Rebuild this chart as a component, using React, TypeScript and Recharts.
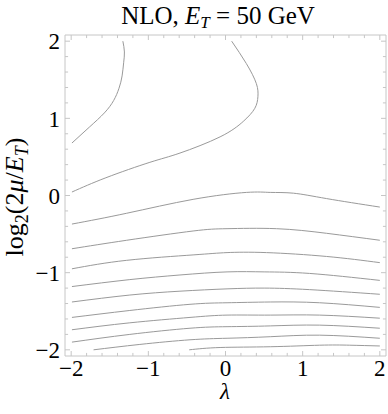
import React from 'react';
import { LineChart, Line, XAxis, YAxis, ReferenceArea, ReferenceLine } from 'recharts';

// contour lines as (lambda, log2(2mu/ET))
const contourA = [
  { x: -1.99, y: 0.68 }, { x: -1.76, y: 0.89 }, { x: -1.57, y: 1.07 }, { x: -1.45, y: 1.23 },
  { x: -1.38, y: 1.39 }, { x: -1.34, y: 1.55 }, { x: -1.32, y: 1.72 }, { x: -1.31, y: 1.86 },
  { x: -1.33, y: 2.0 },
];
const contourB = [
  { x: -1.99, y: 0.045 }, { x: -1.55, y: 0.23 }, { x: -0.98, y: 0.43 }, { x: -0.59, y: 0.55 },
  { x: -0.07, y: 0.76 }, { x: 0.23, y: 0.96 }, { x: 0.38, y: 1.13 }, { x: 0.42, y: 1.28 },
  { x: 0.4, y: 1.45 }, { x: 0.27, y: 1.71 }, { x: 0.08, y: 2.0 },
];
const contourC = [
  { x: -1.99, y: -0.37 }, { x: -1.28, y: -0.23 }, { x: -0.42, y: -0.05 }, { x: 0.27, y: 0.04 },
  { x: 0.58, y: 0.04 }, { x: 0.88, y: 0.03 }, { x: 1.31, y: -0.04 }, { x: 2.0, y: -0.15 },
];
const contourD = [
  { x: -1.99, y: -0.69 }, { x: -1.28, y: -0.58 }, { x: -0.42, y: -0.46 }, { x: 0.02, y: -0.43 },
  { x: 0.66, y: -0.43 }, { x: 1.31, y: -0.49 }, { x: 2.0, y: -0.58 },
];
const contourE = [
  { x: -1.99, y: -0.95 }, { x: -1.28, y: -0.84 }, { x: -0.42, y: -0.77 }, { x: 0.02, y: -0.74 },
  { x: 0.53, y: -0.74 }, { x: 1.31, y: -0.79 }, { x: 2.0, y: -0.87 },
];
const contourF = [
  { x: -1.99, y: -1.18 }, { x: -1.24, y: -1.09 }, { x: -0.59, y: -1.03 }, { x: 0.02, y: -0.99 },
  { x: 0.51, y: -0.99 }, { x: 1.09, y: -1.01 }, { x: 2.0, y: -1.1 },
];
const contourG = [
  { x: -1.99, y: -1.38 }, { x: -1.24, y: -1.29 }, { x: -0.59, y: -1.24 }, { x: 0.02, y: -1.21 },
  { x: 0.51, y: -1.2 }, { x: 1.09, y: -1.22 }, { x: 2.0, y: -1.28 },
];
const contourH = [
  { x: -1.99, y: -1.58 }, { x: -1.24, y: -1.49 }, { x: -0.46, y: -1.41 }, { x: 0.02, y: -1.39 },
  { x: 0.58, y: -1.38 }, { x: 1.22, y: -1.39 }, { x: 2.0, y: -1.45 },
];
const contourI = [
  { x: -1.99, y: -1.74 }, { x: -1.24, y: -1.65 }, { x: -0.46, y: -1.58 }, { x: 0.02, y: -1.55 },
  { x: 0.58, y: -1.55 }, { x: 1.22, y: -1.55 }, { x: 2.0, y: -1.59 },
];
const contourJ = [
  { x: -1.99, y: -1.9 }, { x: -1.24, y: -1.8 }, { x: -0.46, y: -1.72 }, { x: 0.02, y: -1.7 },
  { x: 0.58, y: -1.69 }, { x: 1.22, y: -1.68 }, { x: 2.0, y: -1.72 },
];
const contourK = [
  { x: -1.71, y: -2.0 }, { x: -1.11, y: -1.93 }, { x: -0.46, y: -1.87 }, { x: 0.02, y: -1.85 },
  { x: 0.58, y: -1.83 }, { x: 1.22, y: -1.81 }, { x: 2.0, y: -1.85 },
];
const contourL = [
  { x: -0.47, y: -2.0 }, { x: -0.07, y: -1.97 }, { x: 0.58, y: -1.96 }, { x: 1.22, y: -1.94 },
  { x: 1.61, y: -1.94 }, { x: 2.0, y: -1.95 },
];

const contours = [
  contourA, contourB, contourC, contourD, contourE, contourF,
  contourG, contourH, contourI, contourJ, contourK, contourL,
];

const majorTicks = [-2, -1, 0, 1, 2];
const minorSteps = [0.2, 0.4, 0.6, 0.8];
const minorTicks = majorTicks.slice(0, -1).flatMap((t) => minorSteps.map((s) => +(t + s).toFixed(1)));

const LO = -2.08;
const HI = 2.08;
const MAJOR_LEN = 0.065;
const MINOR_LEN = 0.04;

const FONT = '"Liberation Serif", "DejaVu Serif", serif';
const lineColor = '#9a9a9a';
const frameColor = '#c6c6c6';

const fmt = (v: number) => (v < 0 ? '\u2212' + Math.abs(v) : String(v));

export default function App() {
  const tickMarks = [
    ...majorTicks.map((t) => ({ t, len: MAJOR_LEN })),
    ...minorTicks.map((t) => ({ t, len: MINOR_LEN })),
  ];
  return (
    <div style={{ position: 'absolute', left: 0, top: 0, width: 388, height: 414, background: '#fff' }}>
      <LineChart width={388} height={414} margin={{ top: 35, right: 2, bottom: 0, left: 0 }}>
        <XAxis
          type="number"
          dataKey="x"
          domain={[LO, HI]}
          ticks={majorTicks}
          tickFormatter={fmt}
          allowDataOverflow
          axisLine={false}
          tickLine={false}
          tickSize={0}
          tickMargin={4}
          height={58}
          tick={{ fill: '#000', fontSize: 23, fontFamily: FONT }}
        />
        <YAxis
          type="number"
          dataKey="y"
          domain={[LO, HI]}
          ticks={majorTicks}
          tickFormatter={fmt}
          allowDataOverflow
          axisLine={false}
          tickLine={false}
          tickSize={0}
          tickMargin={5}
          width={65}
          tick={{ fill: '#000', fontSize: 23, fontFamily: FONT }}
        />
        <ReferenceArea x1={LO} x2={HI} y1={LO} y2={HI} fill="none" fillOpacity={0} stroke={frameColor} strokeWidth={1} />
        {tickMarks.map(({ t, len }) => (
          <ReferenceLine key={'b' + t} segment={[{ x: t, y: LO }, { x: t, y: LO + len }]} stroke={frameColor} />
        ))}
        {tickMarks.map(({ t, len }) => (
          <ReferenceLine key={'t' + t} segment={[{ x: t, y: HI }, { x: t, y: HI - len }]} stroke={frameColor} />
        ))}
        {tickMarks.map(({ t, len }) => (
          <ReferenceLine key={'l' + t} segment={[{ x: LO, y: t }, { x: LO + len, y: t }]} stroke={frameColor} />
        ))}
        {tickMarks.map(({ t, len }) => (
          <ReferenceLine key={'r' + t} segment={[{ x: HI, y: t }, { x: HI - len, y: t }]} stroke={frameColor} />
        ))}
        {contours.map((c, i) => (
          <Line
            key={i}
            data={c}
            dataKey="y"
            type="natural"
            dot={false}
            activeDot={false}
            stroke={lineColor}
            strokeWidth={1}
            isAnimationActive={false}
          />
        ))}
      </LineChart>
      <svg
        width={388}
        height={414}
        style={{ position: 'absolute', left: 0, top: 0, pointerEvents: 'none' }}
        fontFamily={FONT}
      >
        <text x={218} y={24} textAnchor="middle" fontSize={25} fill="#000">
          NLO,{' '}
          <tspan fontStyle="italic">E</tspan>
          <tspan fontStyle="italic" fontSize={17} dy={4}>T</tspan>
          <tspan dy={-4}> = 50 GeV</tspan>
        </text>
        <text x={225} y={399} textAnchor="middle" fontSize={23} fontStyle="italic" fill="#000">
          λ
        </text>
        <text transform="translate(23,197) rotate(-90)" textAnchor="middle" fontSize={26} fill="#000">
          log
          <tspan fontSize={18} dy={5}>2</tspan>
          <tspan dy={-5}>(2</tspan>
          <tspan fontStyle="italic">μ</tspan>
          <tspan>/</tspan>
          <tspan fontStyle="italic">E</tspan>
          <tspan fontStyle="italic" fontSize={18} dy={5}>T</tspan>
          <tspan dy={-5}>)</tspan>
        </text>
      </svg>
    </div>
  );
}
